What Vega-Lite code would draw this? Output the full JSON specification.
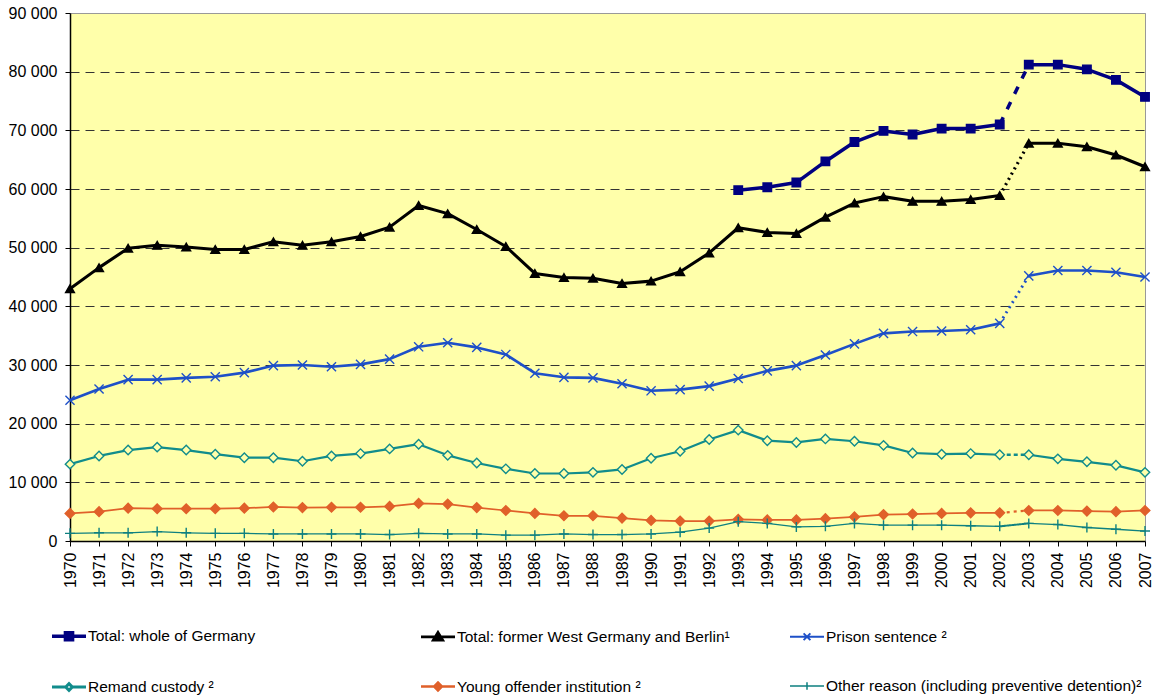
{
  "$schema": "https://vega.github.io/schema/vega-lite/v6.json",
  "width": 1075,
  "height": 528,
  "autosize": {"type": "none"},
  "padding": {"left": 70, "top": 13, "right": 9, "bottom": 155},
  "background": "white",
  "config": {
    "view": {"fill": "#FFFFAA", "stroke": "#999999", "strokeWidth": 1},
    "font": "Liberation Sans",
    "axis": {"labelFont": "Liberation Sans", "labelFontSize": 16, "labelColor": "#000000", "domainColor": "#000000", "domainWidth": 1.5, "tickColor": "#000000", "tickWidth": 1, "title": null}
  },
  "data": {"values": [
    {"year": 1970, "whole": null, "west": 43000, "prison": 24000, "remand": 13100, "young": 4700, "other": 1300},
    {"year": 1971, "whole": null, "west": 46600, "prison": 25900, "remand": 14500, "young": 5000, "other": 1400},
    {"year": 1972, "whole": null, "west": 49900, "prison": 27500, "remand": 15500, "young": 5600, "other": 1400},
    {"year": 1973, "whole": null, "west": 50400, "prison": 27500, "remand": 16000, "young": 5500, "other": 1600},
    {"year": 1974, "whole": null, "west": 50100, "prison": 27800, "remand": 15500, "young": 5500, "other": 1400},
    {"year": 1975, "whole": null, "west": 49700, "prison": 28000, "remand": 14800, "young": 5500, "other": 1300},
    {"year": 1976, "whole": null, "west": 49700, "prison": 28700, "remand": 14200, "young": 5600, "other": 1300},
    {"year": 1977, "whole": null, "west": 51000, "prison": 29900, "remand": 14200, "young": 5800, "other": 1200},
    {"year": 1978, "whole": null, "west": 50400, "prison": 30000, "remand": 13600, "young": 5700, "other": 1200},
    {"year": 1979, "whole": null, "west": 51000, "prison": 29700, "remand": 14500, "young": 5750, "other": 1200},
    {"year": 1980, "whole": null, "west": 51900, "prison": 30100, "remand": 14900, "young": 5750, "other": 1200},
    {"year": 1981, "whole": null, "west": 53500, "prison": 31000, "remand": 15700, "young": 5900, "other": 1100},
    {"year": 1982, "whole": null, "west": 57200, "prison": 33100, "remand": 16500, "young": 6400, "other": 1300},
    {"year": 1983, "whole": null, "west": 55800, "prison": 33800, "remand": 14600, "young": 6300, "other": 1200},
    {"year": 1984, "whole": null, "west": 53100, "prison": 33000, "remand": 13300, "young": 5700, "other": 1200},
    {"year": 1985, "whole": null, "west": 50200, "prison": 31800, "remand": 12300, "young": 5200, "other": 1000},
    {"year": 1986, "whole": null, "west": 45600, "prison": 28600, "remand": 11500, "young": 4700, "other": 1000},
    {"year": 1987, "whole": null, "west": 44900, "prison": 27900, "remand": 11500, "young": 4300, "other": 1200},
    {"year": 1988, "whole": null, "west": 44800, "prison": 27800, "remand": 11700, "young": 4300, "other": 1100},
    {"year": 1989, "whole": null, "west": 43900, "prison": 26800, "remand": 12200, "young": 3900, "other": 1100},
    {"year": 1990, "whole": null, "west": 44300, "prison": 25600, "remand": 14100, "young": 3500, "other": 1200},
    {"year": 1991, "whole": null, "west": 45900, "prison": 25800, "remand": 15300, "young": 3400, "other": 1500},
    {"year": 1992, "whole": null, "west": 49100, "prison": 26400, "remand": 17300, "young": 3400, "other": 2200},
    {"year": 1993, "whole": 59800, "west": 53400, "prison": 27700, "remand": 18900, "young": 3700, "other": 3300},
    {"year": 1994, "whole": 60300, "west": 52600, "prison": 29000, "remand": 17100, "young": 3600, "other": 3000},
    {"year": 1995, "whole": 61100, "west": 52400, "prison": 29900, "remand": 16800, "young": 3600, "other": 2400},
    {"year": 1996, "whole": 64700, "west": 55200, "prison": 31700, "remand": 17400, "young": 3800, "other": 2500},
    {"year": 1997, "whole": 68000, "west": 57600, "prison": 33600, "remand": 17000, "young": 4100, "other": 3000},
    {"year": 1998, "whole": 69900, "west": 58700, "prison": 35400, "remand": 16300, "young": 4500, "other": 2700},
    {"year": 1999, "whole": 69300, "west": 57900, "prison": 35700, "remand": 15000, "young": 4600, "other": 2700},
    {"year": 2000, "whole": 70300, "west": 57900, "prison": 35800, "remand": 14800, "young": 4700, "other": 2700},
    {"year": 2001, "whole": 70300, "west": 58200, "prison": 36000, "remand": 14900, "young": 4800, "other": 2600},
    {"year": 2002, "whole": 71000, "west": 58900, "prison": 37100, "remand": 14700, "young": 4800, "other": 2500},
    {"year": 2003, "whole": 81200, "west": 67800, "prison": 45200, "remand": 14700, "young": 5200, "other": 3000},
    {"year": 2004, "whole": 81200, "west": 67800, "prison": 46100, "remand": 14000, "young": 5200, "other": 2800},
    {"year": 2005, "whole": 80400, "west": 67200, "prison": 46100, "remand": 13500, "young": 5100, "other": 2300},
    {"year": 2006, "whole": 78600, "west": 65800, "prison": 45800, "remand": 12900, "young": 5000, "other": 2000},
    {"year": 2007, "whole": 75700, "west": 63800, "prison": 45000, "remand": 11700, "young": 5200, "other": 1700}
  ]},
  "transform": [{"fold": ["whole", "west", "prison", "remand", "young", "other"], "as": ["series", "count"]}],
  "encoding": {
    "x": {"field": "year", "type": "ordinal", "scale": {"type": "point", "padding": 0},
      "axis": {"labelAngle": -90, "labelPadding": 6, "tickSize": 5, "grid": false}},
    "y": {"field": "count", "type": "quantitative", "scale": {"domain": [0, 90000], "nice": false, "zero": true},
      "axis": {"values": [0, 10000, 20000, 30000, 40000, 50000, 60000, 70000, 80000, 90000], "format": ",d",
        "labelExpr": "replace(datum.label, ',', ' ')", "tickSize": 5, "labelPadding": 8, "grid": true,
        "gridColor": {"condition": {"test": "datum.value >= 90000", "value": "#999999"}, "value": "#333333"},
        "gridDash": {"condition": {"test": "datum.value >= 90000", "value": []}, "value": [9, 6]},
        "gridWidth": 1}}
  },
  "layer": [
    {
      "transform": [{"filter": "datum.year <= 2002"}],
      "mark": {"type": "line", "strokeJoin": "round"},
      "encoding": {
        "color": {"field": "series", "type": "nominal", "scale": {"domain": ["whole", "west", "prison", "remand", "young", "other"], "range": ["#000080", "#000000", "#1E50C8", "#118C8C", "#E0602A", "#0E8080"]}, "legend": null},
        "strokeWidth": {"field": "series", "type": "nominal", "scale": {"domain": ["whole", "west", "prison", "remand", "young", "other"], "range": [3.5, 1.3, 1.5, 1.5, 1.5, 1.5]}, "legend": null}
      }
    },
    {
      "transform": [{"filter": "datum.year >= 2003"}],
      "mark": {"type": "line", "strokeJoin": "round"},
      "encoding": {
        "color": {"field": "series", "type": "nominal", "scale": {"domain": ["whole", "west", "prison", "remand", "young", "other"], "range": ["#000080", "#000000", "#1E50C8", "#118C8C", "#E0602A", "#0E8080"]}, "legend": null},
        "strokeWidth": {"field": "series", "type": "nominal", "scale": {"domain": ["whole", "west", "prison", "remand", "young", "other"], "range": [3.5, 1.3, 1.5, 1.5, 1.5, 1.5]}, "legend": null}
      }
    },
    {
      "transform": [{"filter": "datum.year >= 2002 && datum.year <= 2003"}],
      "mark": {"type": "line", "strokeCap": "butt"},
      "encoding": {
        "color": {"field": "series", "type": "nominal", "scale": {"domain": ["whole", "west", "prison", "remand", "young", "other"], "range": ["#000080", "#000000", "#1E50C8", "#118C8C", "#E0602A", "#0E8080"]}, "legend": null},
        "strokeWidth": {"field": "series", "type": "nominal", "scale": {"domain": ["whole", "west", "prison", "remand", "young", "other"], "range": [3.5, 2, 2, 2.5, 2, 1.5]}, "legend": null},
        "strokeDash": {"field": "series", "type": "nominal", "scale": {"domain": ["whole", "west", "prison", "remand", "young", "other"], "range": [[8, 9], [2, 4], [2, 4], [4, 3], [3, 4], [1, 0]]}, "legend": null}
      }
    },
    {
      "mark": {"type": "point", "opacity": 1, "strokeWidth": 1.4},
      "encoding": {
        "shape": {"field": "series", "type": "nominal", "scale": {"domain": ["whole", "west", "prison", "remand", "young", "other"], "range": ["square", "triangle-up", "M-1,-1L1,1M-1,1L1,-1", "diamond", "diamond", "M0,-1V1M-1,0H1"]}, "legend": null},
        "stroke": {"field": "series", "type": "nominal", "scale": {"domain": ["whole", "west", "prison", "remand", "young", "other"], "range": ["#000080", "#000000", "#1E50C8", "#118C8C", "#E0602A", "#0E8080"]}, "legend": null},
        "fill": {"field": "series", "type": "nominal", "scale": {"domain": ["whole", "west", "prison", "remand", "young", "other"], "range": ["#000080", "#000000", "#1E50C8", "#FFFFAA", "#E0602A", "#0E8080"]}, "legend": null},
        "size": {"field": "series", "type": "nominal", "scale": {"domain": ["whole", "west", "prison", "remand", "young", "other"], "range": [72, 100, 81, 56, 72, 81]}, "legend": null}
      }
    },
    {
      "transform": [{"filter": "datum.year < 0"}],
      "mark": {"type": "point", "opacity": 1},
      "encoding": {
        "shape": {"field": "series", "type": "nominal", "scale": {"domain": ["whole", "remand", "west", "young", "prison", "other"], "range": ["M-1,0H1M-0.21,-0.21H0.21V0.21H-0.21Z", "M-1,0H-0.19M0.19,0H1M-0.19,0L0,-0.19L0.19,0L0,0.19Z", "M-1,0H1M0,-0.26L0.28,0.2H-0.28Z", "M-1,0H1M-0.24,0L0,-0.24L0.24,0L0,0.24Z", "M-1,0H1M-0.2,-0.2L0.2,0.2M-0.2,0.2L0.2,-0.2", "M-1,0H1M0,-0.22V0.22"]},
          "legend": {"title": null, "orient": "none", "legendX": -20, "legendY": 604, "columns": 3, "gridAlign": "all", "columnPadding": 11, "rowPadding": 21, "symbolSize": 1156, "labelFont": "Liberation Sans", "labelFontSize": 15.5, "labelColor": "#000000", "labelLimit": 500, "labelOffset": 0, "padding": 0, "symbolOpacity": 1,
            "labelExpr": "{'whole': 'Total: whole of Germany', 'west': 'Total: former West Germany and Berlin¹', 'prison': 'Prison sentence ²', 'remand': 'Remand custody ²', 'young': 'Young offender institution ²', 'other': 'Other reason (including preventive detention)²'}[datum.value]"}},
        "stroke": {"field": "series", "type": "nominal", "scale": {"domain": ["whole", "remand", "west", "young", "prison", "other"], "range": ["#000080", "#118C8C", "#000000", "#E0602A", "#1E50C8", "#0E8080"]},
          "legend": {"title": null, "orient": "none", "legendX": -20, "legendY": 604, "columns": 3, "gridAlign": "all", "columnPadding": 11, "rowPadding": 21, "symbolSize": 1156, "labelFont": "Liberation Sans", "labelFontSize": 15.5, "labelColor": "#000000", "labelLimit": 500, "labelOffset": 0, "padding": 0, "symbolOpacity": 1,
            "labelExpr": "{'whole': 'Total: whole of Germany', 'west': 'Total: former West Germany and Berlin¹', 'prison': 'Prison sentence ²', 'remand': 'Remand custody ²', 'young': 'Young offender institution ²', 'other': 'Other reason (including preventive detention)²'}[datum.value]"}},
        "fill": {"field": "series", "type": "nominal", "scale": {"domain": ["whole", "remand", "west", "young", "prison", "other"], "range": ["#000080", "#FFFFFF", "#000000", "#E0602A", "#1E50C8", "#0E8080"]},
          "legend": {"title": null, "orient": "none", "legendX": -20, "legendY": 604, "columns": 3, "gridAlign": "all", "columnPadding": 11, "rowPadding": 21, "symbolSize": 1156, "labelFont": "Liberation Sans", "labelFontSize": 15.5, "labelColor": "#000000", "labelLimit": 500, "labelOffset": 0, "padding": 0, "symbolOpacity": 1,
            "labelExpr": "{'whole': 'Total: whole of Germany', 'west': 'Total: former West Germany and Berlin¹', 'prison': 'Prison sentence ²', 'remand': 'Remand custody ²', 'young': 'Young offender institution ²', 'other': 'Other reason (including preventive detention)²'}[datum.value]"}},
        "strokeWidth": {"field": "series", "type": "nominal", "scale": {"domain": ["whole", "remand", "west", "young", "prison", "other"], "range": [3.5, 1.5, 1.5, 1.5, 1.5, 1.5]},
          "legend": {"title": null, "orient": "none", "legendX": -20, "legendY": 604, "columns": 3, "gridAlign": "all", "columnPadding": 11, "rowPadding": 21, "symbolSize": 1156, "labelFont": "Liberation Sans", "labelFontSize": 15.5, "labelColor": "#000000", "labelLimit": 500, "labelOffset": 0, "padding": 0, "symbolOpacity": 1,
            "labelExpr": "{'whole': 'Total: whole of Germany', 'west': 'Total: former West Germany and Berlin¹', 'prison': 'Prison sentence ²', 'remand': 'Remand custody ²', 'young': 'Young offender institution ²', 'other': 'Other reason (including preventive detention)²'}[datum.value]"}}
      }
    }
  ],
  "resolve": {"scale": {"shape": "independent", "fill": "independent", "stroke": "independent", "strokeWidth": "independent"}}
}
